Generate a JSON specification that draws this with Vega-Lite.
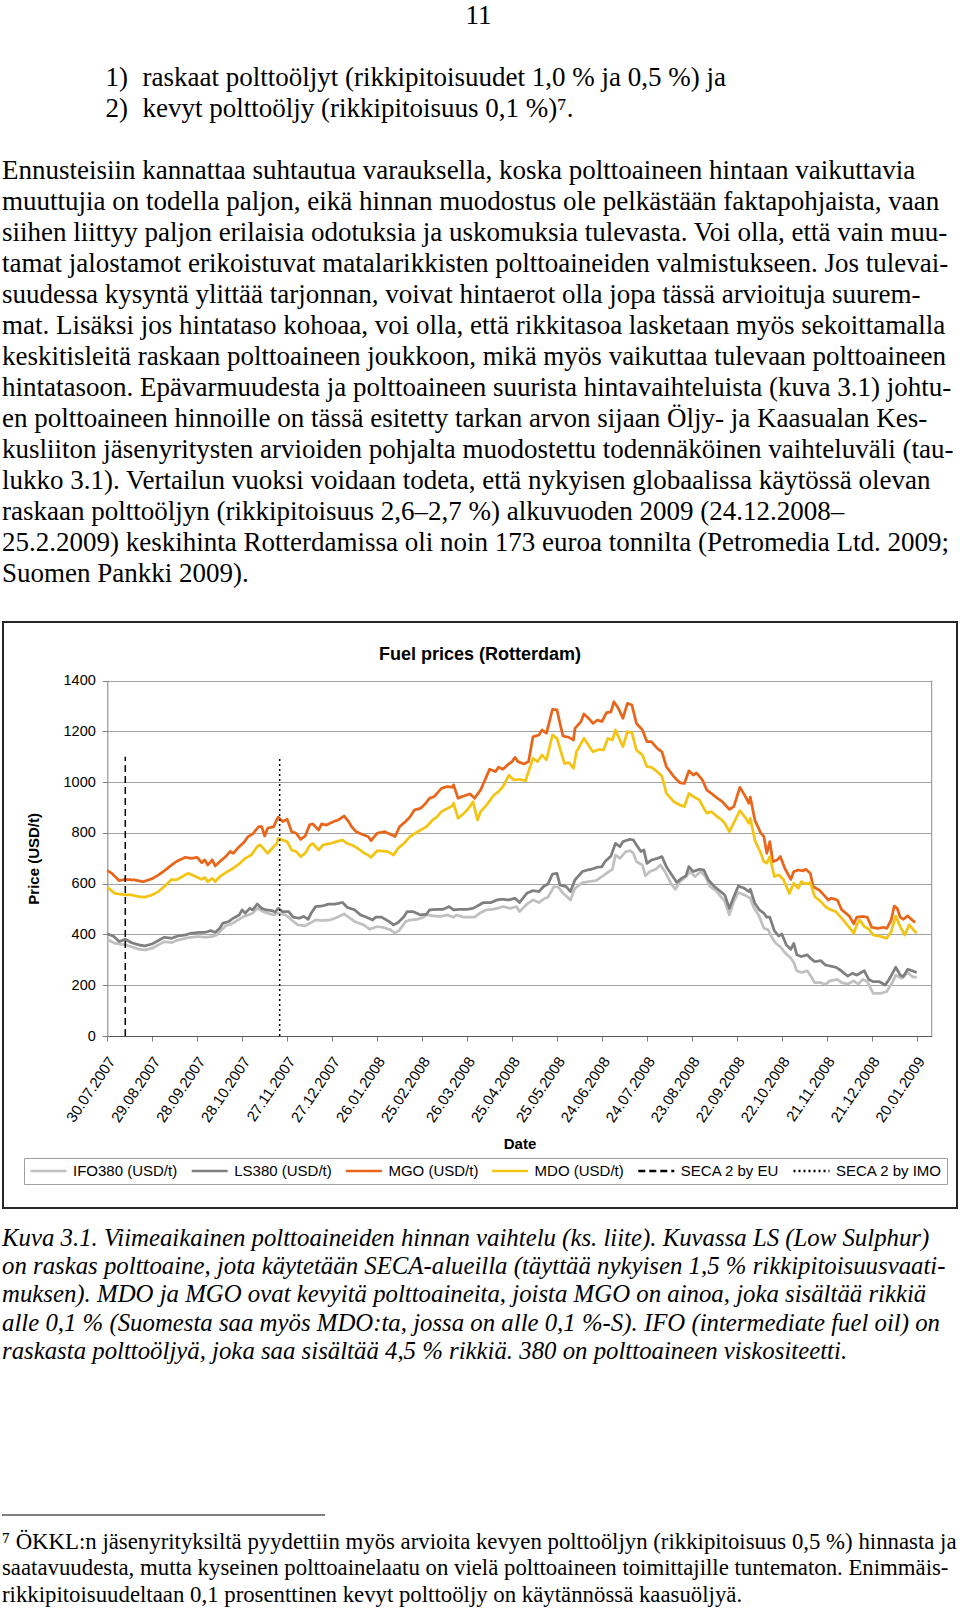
{
  "$schema": "https://vega.github.io/schema/vega-lite/v6.json",
  "background": "#ffffff",
  "padding": 0,
  "spacing": 0,
  "bounds": "flush",
  "center": true,
  "resolve": {"scale": {"x": "independent", "y": "independent"}},
  "config": {
    "view": {"stroke": null},
    "legend": {
      "orient": "none", "legendX": 24, "legendY": 1158, "direction": "horizontal", "columns": 6,
      "symbolType": "stroke", "symbolSize": 1296, "symbolStrokeWidth": 2.5, "clipHeight": 16,
      "labelFont": "Liberation Sans", "labelFontSize": 15, "labelColor": "#000000", "labelOffset": 5, "labelLimit": 0,
      "columnPadding": 12.2, "padding": 5, "strokeColor": "#a0a0a0"
    }
  },
  "vconcat": [
    {
      "width": 960,
      "height": 622,
      "data": {"values": [
        {"line": 0, "indent": 3, "text": "11"},
        {"line": 2, "indent": 1, "text": "1)"},
        {"line": 2, "indent": 2, "text": "raskaat polttoöljyt (rikkipitoisuudet 1,0 % ja 0,5 %) ja"},
        {"line": 3, "indent": 1, "text": "2)"},
        {"line": 3, "indent": 2, "text": "kevyt polttoöljy (rikkipitoisuus 0,1 %)⁷."},
        {"line": 5, "indent": 0, "text": "Ennusteisiin kannattaa suhtautua varauksella, koska polttoaineen hintaan vaikuttavia"},
        {"line": 6, "indent": 0, "text": "muuttujia on todella paljon, eikä hinnan muodostus ole pelkästään faktapohjaista, vaan"},
        {"line": 7, "indent": 0, "text": "siihen liittyy paljon erilaisia odotuksia ja uskomuksia tulevasta. Voi olla, että vain muu-"},
        {"line": 8, "indent": 0, "text": "tamat jalostamot erikoistuvat matalarikkisten polttoaineiden valmistukseen. Jos tulevai-"},
        {"line": 9, "indent": 0, "text": "suudessa kysyntä ylittää tarjonnan, voivat hintaerot olla jopa tässä arvioituja suurem-"},
        {"line": 10, "indent": 0, "text": "mat. Lisäksi jos hintataso kohoaa, voi olla, että rikkitasoa lasketaan myös sekoittamalla"},
        {"line": 11, "indent": 0, "text": "keskitisleitä raskaan polttoaineen joukkoon, mikä myös vaikuttaa tulevaan polttoaineen"},
        {"line": 12, "indent": 0, "text": "hintatasoon. Epävarmuudesta ja polttoaineen suurista hintavaihteluista (kuva 3.1) johtu-"},
        {"line": 13, "indent": 0, "text": "en polttoaineen hinnoille on tässä esitetty tarkan arvon sijaan Öljy- ja Kaasualan Kes-"},
        {"line": 14, "indent": 0, "text": "kusliiton jäsenyritysten arvioiden pohjalta muodostettu todennäköinen vaihteluväli (tau-"},
        {"line": 15, "indent": 0, "text": "lukko 3.1). Vertailun vuoksi voidaan todeta, että nykyisen globaalissa käytössä olevan"},
        {"line": 16, "indent": 0, "text": "raskaan polttoöljyn (rikkipitoisuus 2,6–2,7 %) alkuvuoden 2009 (24.12.2008–"},
        {"line": 17, "indent": 0, "text": "25.2.2009) keskihinta Rotterdamissa oli noin 173 euroa tonnilta (Petromedia Ltd. 2009;"},
        {"line": 18, "indent": 0, "text": "Suomen Pankki 2009)."}
      ]},
      "mark": {"type": "text", "align": "left", "baseline": "middle", "font": "Liberation Serif", "fontSize": 27, "color": "#000000"},
      "encoding": {
        "x": {"field": "indent", "type": "quantitative", "scale": {"domain": [0, 1, 2, 3], "range": [2, 105.6, 142.6, 465.5], "nice": false, "zero": false}, "axis": null},
        "y": {"field": "line", "type": "quantitative", "scale": {"domain": [-0.516, 19.548], "range": [0, 622], "nice": false, "zero": false}, "axis": null},
        "text": {"field": "text", "type": "nominal"}
      }
    },
    {
      "width": 954,
      "height": 586,
      "view": {"stroke": "#262626", "strokeWidth": 2},
      "title": {"text": "Fuel prices (Rotterdam)", "frame": "group", "anchor": "middle", "offset": -42, "font": "Liberation Sans", "fontSize": 18, "fontWeight": "bold", "color": "#000000"},
      "layer": [
        {
          "data": {"values": [{"edge": "plot area right border"}]},
          "mark": {"type": "rule", "color": "#8c8c8c", "strokeWidth": 1},
          "encoding": {
            "x": {"datum": {"year": 2009, "month": 1, "date": 30, "utc": true}, "type": "temporal"},
            "y": {"datum": 0, "type": "quantitative"},
            "y2": {"datum": 1400}
          }
        },
        {
          "data": {"values": [
{"series":"IFO380 (USD/t)","date":"2007-07-30","price":381},
{"series":"IFO380 (USD/t)","date":"2007-08-04","price":365},
{"series":"IFO380 (USD/t)","date":"2007-08-11","price":359},
{"series":"IFO380 (USD/t)","date":"2007-08-15","price":352},
{"series":"IFO380 (USD/t)","date":"2007-08-20","price":342},
{"series":"IFO380 (USD/t)","date":"2007-08-24","price":339},
{"series":"IFO380 (USD/t)","date":"2007-08-29","price":346},
{"series":"IFO380 (USD/t)","date":"2007-09-02","price":359},
{"series":"IFO380 (USD/t)","date":"2007-09-06","price":372},
{"series":"IFO380 (USD/t)","date":"2007-09-11","price":368},
{"series":"IFO380 (USD/t)","date":"2007-09-15","price":378},
{"series":"IFO380 (USD/t)","date":"2007-09-20","price":385},
{"series":"IFO380 (USD/t)","date":"2007-09-24","price":389},
{"series":"IFO380 (USD/t)","date":"2007-09-29","price":392},
{"series":"IFO380 (USD/t)","date":"2007-10-03","price":389},
{"series":"IFO380 (USD/t)","date":"2007-10-08","price":392},
{"series":"IFO380 (USD/t)","date":"2007-10-11","price":398},
{"series":"IFO380 (USD/t)","date":"2007-10-13","price":411},
{"series":"IFO380 (USD/t)","date":"2007-10-17","price":434},
{"series":"IFO380 (USD/t)","date":"2007-10-21","price":442},
{"series":"IFO380 (USD/t)","date":"2007-10-26","price":460},
{"series":"IFO380 (USD/t)","date":"2007-10-29","price":471},
{"series":"IFO380 (USD/t)","date":"2007-11-01","price":477},
{"series":"IFO380 (USD/t)","date":"2007-11-04","price":484},
{"series":"IFO380 (USD/t)","date":"2007-11-07","price":503},
{"series":"IFO380 (USD/t)","date":"2007-11-11","price":490},
{"series":"IFO380 (USD/t)","date":"2007-11-14","price":484},
{"series":"IFO380 (USD/t)","date":"2007-11-18","price":477},
{"series":"IFO380 (USD/t)","date":"2007-11-21","price":484},
{"series":"IFO380 (USD/t)","date":"2007-11-26","price":477},
{"series":"IFO380 (USD/t)","date":"2007-11-30","price":457},
{"series":"IFO380 (USD/t)","date":"2007-12-04","price":438},
{"series":"IFO380 (USD/t)","date":"2007-12-09","price":434},
{"series":"IFO380 (USD/t)","date":"2007-12-12","price":444},
{"series":"IFO380 (USD/t)","date":"2007-12-16","price":457},
{"series":"IFO380 (USD/t)","date":"2007-12-20","price":455},
{"series":"IFO380 (USD/t)","date":"2007-12-25","price":457},
{"series":"IFO380 (USD/t)","date":"2007-12-29","price":464},
{"series":"IFO380 (USD/t)","date":"2008-01-04","price":481},
{"series":"IFO380 (USD/t)","date":"2008-01-08","price":464},
{"series":"IFO380 (USD/t)","date":"2008-01-11","price":451},
{"series":"IFO380 (USD/t)","date":"2008-01-17","price":438},
{"series":"IFO380 (USD/t)","date":"2008-01-21","price":421},
{"series":"IFO380 (USD/t)","date":"2008-01-26","price":431},
{"series":"IFO380 (USD/t)","date":"2008-01-30","price":428},
{"series":"IFO380 (USD/t)","date":"2008-02-04","price":418},
{"series":"IFO380 (USD/t)","date":"2008-02-07","price":405},
{"series":"IFO380 (USD/t)","date":"2008-02-10","price":418},
{"series":"IFO380 (USD/t)","date":"2008-02-14","price":451},
{"series":"IFO380 (USD/t)","date":"2008-02-17","price":457},
{"series":"IFO380 (USD/t)","date":"2008-02-22","price":460},
{"series":"IFO380 (USD/t)","date":"2008-02-26","price":468},
{"series":"IFO380 (USD/t)","date":"2008-02-28","price":477},
{"series":"IFO380 (USD/t)","date":"2008-03-04","price":473},
{"series":"IFO380 (USD/t)","date":"2008-03-08","price":471},
{"series":"IFO380 (USD/t)","date":"2008-03-13","price":477},
{"series":"IFO380 (USD/t)","date":"2008-03-17","price":468},
{"series":"IFO380 (USD/t)","date":"2008-03-19","price":477},
{"series":"IFO380 (USD/t)","date":"2008-03-24","price":468},
{"series":"IFO380 (USD/t)","date":"2008-03-28","price":468},
{"series":"IFO380 (USD/t)","date":"2008-03-31","price":468},
{"series":"IFO380 (USD/t)","date":"2008-04-04","price":486},
{"series":"IFO380 (USD/t)","date":"2008-04-08","price":497},
{"series":"IFO380 (USD/t)","date":"2008-04-12","price":499},
{"series":"IFO380 (USD/t)","date":"2008-04-15","price":503},
{"series":"IFO380 (USD/t)","date":"2008-04-19","price":510},
{"series":"IFO380 (USD/t)","date":"2008-04-24","price":503},
{"series":"IFO380 (USD/t)","date":"2008-04-28","price":510},
{"series":"IFO380 (USD/t)","date":"2008-04-30","price":490},
{"series":"IFO380 (USD/t)","date":"2008-05-05","price":520},
{"series":"IFO380 (USD/t)","date":"2008-05-09","price":536},
{"series":"IFO380 (USD/t)","date":"2008-05-13","price":526},
{"series":"IFO380 (USD/t)","date":"2008-05-17","price":543},
{"series":"IFO380 (USD/t)","date":"2008-05-19","price":547},
{"series":"IFO380 (USD/t)","date":"2008-05-23","price":589},
{"series":"IFO380 (USD/t)","date":"2008-05-26","price":586},
{"series":"IFO380 (USD/t)","date":"2008-05-29","price":563},
{"series":"IFO380 (USD/t)","date":"2008-06-03","price":536},
{"series":"IFO380 (USD/t)","date":"2008-06-06","price":582},
{"series":"IFO380 (USD/t)","date":"2008-06-11","price":604},
{"series":"IFO380 (USD/t)","date":"2008-06-15","price":608},
{"series":"IFO380 (USD/t)","date":"2008-06-20","price":612},
{"series":"IFO380 (USD/t)","date":"2008-06-24","price":628},
{"series":"IFO380 (USD/t)","date":"2008-06-27","price":641},
{"series":"IFO380 (USD/t)","date":"2008-07-01","price":657},
{"series":"IFO380 (USD/t)","date":"2008-07-03","price":713},
{"series":"IFO380 (USD/t)","date":"2008-07-06","price":700},
{"series":"IFO380 (USD/t)","date":"2008-07-10","price":727},
{"series":"IFO380 (USD/t)","date":"2008-07-13","price":730},
{"series":"IFO380 (USD/t)","date":"2008-07-15","price":720},
{"series":"IFO380 (USD/t)","date":"2008-07-17","price":687},
{"series":"IFO380 (USD/t)","date":"2008-07-21","price":674},
{"series":"IFO380 (USD/t)","date":"2008-07-23","price":631},
{"series":"IFO380 (USD/t)","date":"2008-07-26","price":648},
{"series":"IFO380 (USD/t)","date":"2008-07-30","price":657},
{"series":"IFO380 (USD/t)","date":"2008-08-02","price":674},
{"series":"IFO380 (USD/t)","date":"2008-08-05","price":648},
{"series":"IFO380 (USD/t)","date":"2008-08-09","price":602},
{"series":"IFO380 (USD/t)","date":"2008-08-12","price":578},
{"series":"IFO380 (USD/t)","date":"2008-08-15","price":608},
{"series":"IFO380 (USD/t)","date":"2008-08-19","price":628},
{"series":"IFO380 (USD/t)","date":"2008-08-22","price":648},
{"series":"IFO380 (USD/t)","date":"2008-08-25","price":628},
{"series":"IFO380 (USD/t)","date":"2008-08-29","price":648},
{"series":"IFO380 (USD/t)","date":"2008-09-01","price":628},
{"series":"IFO380 (USD/t)","date":"2008-09-04","price":589},
{"series":"IFO380 (USD/t)","date":"2008-09-08","price":573},
{"series":"IFO380 (USD/t)","date":"2008-09-11","price":552},
{"series":"IFO380 (USD/t)","date":"2008-09-14","price":530},
{"series":"IFO380 (USD/t)","date":"2008-09-17","price":477},
{"series":"IFO380 (USD/t)","date":"2008-09-20","price":530},
{"series":"IFO380 (USD/t)","date":"2008-09-23","price":565},
{"series":"IFO380 (USD/t)","date":"2008-09-27","price":556},
{"series":"IFO380 (USD/t)","date":"2008-10-01","price":543},
{"series":"IFO380 (USD/t)","date":"2008-10-03","price":510},
{"series":"IFO380 (USD/t)","date":"2008-10-07","price":471},
{"series":"IFO380 (USD/t)","date":"2008-10-10","price":425},
{"series":"IFO380 (USD/t)","date":"2008-10-13","price":418},
{"series":"IFO380 (USD/t)","date":"2008-10-15","price":392},
{"series":"IFO380 (USD/t)","date":"2008-10-18","price":365},
{"series":"IFO380 (USD/t)","date":"2008-10-21","price":352},
{"series":"IFO380 (USD/t)","date":"2008-10-24","price":329},
{"series":"IFO380 (USD/t)","date":"2008-10-28","price":307},
{"series":"IFO380 (USD/t)","date":"2008-10-30","price":289},
{"series":"IFO380 (USD/t)","date":"2008-11-01","price":257},
{"series":"IFO380 (USD/t)","date":"2008-11-04","price":250},
{"series":"IFO380 (USD/t)","date":"2008-11-08","price":257},
{"series":"IFO380 (USD/t)","date":"2008-11-11","price":230},
{"series":"IFO380 (USD/t)","date":"2008-11-13","price":210},
{"series":"IFO380 (USD/t)","date":"2008-11-17","price":210},
{"series":"IFO380 (USD/t)","date":"2008-11-20","price":203},
{"series":"IFO380 (USD/t)","date":"2008-11-23","price":217},
{"series":"IFO380 (USD/t)","date":"2008-11-28","price":223},
{"series":"IFO380 (USD/t)","date":"2008-12-01","price":210},
{"series":"IFO380 (USD/t)","date":"2008-12-05","price":205},
{"series":"IFO380 (USD/t)","date":"2008-12-09","price":217},
{"series":"IFO380 (USD/t)","date":"2008-12-12","price":205},
{"series":"IFO380 (USD/t)","date":"2008-12-15","price":223},
{"series":"IFO380 (USD/t)","date":"2008-12-18","price":214},
{"series":"IFO380 (USD/t)","date":"2008-12-22","price":168},
{"series":"IFO380 (USD/t)","date":"2008-12-27","price":168},
{"series":"IFO380 (USD/t)","date":"2008-12-31","price":175},
{"series":"IFO380 (USD/t)","date":"2009-01-04","price":214},
{"series":"IFO380 (USD/t)","date":"2009-01-06","price":240},
{"series":"IFO380 (USD/t)","date":"2009-01-10","price":227},
{"series":"IFO380 (USD/t)","date":"2009-01-14","price":250},
{"series":"IFO380 (USD/t)","date":"2009-01-17","price":234},
{"series":"IFO380 (USD/t)","date":"2009-01-20","price":231},
{"series":"LS380 (USD/t)","date":"2007-07-30","price":402},
{"series":"LS380 (USD/t)","date":"2007-08-03","price":394},
{"series":"LS380 (USD/t)","date":"2007-08-07","price":372},
{"series":"LS380 (USD/t)","date":"2007-08-11","price":381},
{"series":"LS380 (USD/t)","date":"2007-08-15","price":368},
{"series":"LS380 (USD/t)","date":"2007-08-20","price":359},
{"series":"LS380 (USD/t)","date":"2007-08-24","price":355},
{"series":"LS380 (USD/t)","date":"2007-08-29","price":363},
{"series":"LS380 (USD/t)","date":"2007-09-02","price":376},
{"series":"LS380 (USD/t)","date":"2007-09-06","price":389},
{"series":"LS380 (USD/t)","date":"2007-09-11","price":385},
{"series":"LS380 (USD/t)","date":"2007-09-15","price":394},
{"series":"LS380 (USD/t)","date":"2007-09-20","price":398},
{"series":"LS380 (USD/t)","date":"2007-09-24","price":405},
{"series":"LS380 (USD/t)","date":"2007-09-29","price":408},
{"series":"LS380 (USD/t)","date":"2007-10-03","price":408},
{"series":"LS380 (USD/t)","date":"2007-10-07","price":415},
{"series":"LS380 (USD/t)","date":"2007-10-10","price":408},
{"series":"LS380 (USD/t)","date":"2007-10-13","price":425},
{"series":"LS380 (USD/t)","date":"2007-10-15","price":444},
{"series":"LS380 (USD/t)","date":"2007-10-19","price":451},
{"series":"LS380 (USD/t)","date":"2007-10-22","price":464},
{"series":"LS380 (USD/t)","date":"2007-10-26","price":477},
{"series":"LS380 (USD/t)","date":"2007-10-28","price":497},
{"series":"LS380 (USD/t)","date":"2007-10-30","price":484},
{"series":"LS380 (USD/t)","date":"2007-11-02","price":503},
{"series":"LS380 (USD/t)","date":"2007-11-04","price":497},
{"series":"LS380 (USD/t)","date":"2007-11-07","price":520},
{"series":"LS380 (USD/t)","date":"2007-11-10","price":503},
{"series":"LS380 (USD/t)","date":"2007-11-13","price":497},
{"series":"LS380 (USD/t)","date":"2007-11-17","price":494},
{"series":"LS380 (USD/t)","date":"2007-11-19","price":488},
{"series":"LS380 (USD/t)","date":"2007-11-21","price":503},
{"series":"LS380 (USD/t)","date":"2007-11-24","price":490},
{"series":"LS380 (USD/t)","date":"2007-11-28","price":490},
{"series":"LS380 (USD/t)","date":"2007-12-01","price":468},
{"series":"LS380 (USD/t)","date":"2007-12-05","price":464},
{"series":"LS380 (USD/t)","date":"2007-12-08","price":471},
{"series":"LS380 (USD/t)","date":"2007-12-11","price":460},
{"series":"LS380 (USD/t)","date":"2007-12-13","price":484},
{"series":"LS380 (USD/t)","date":"2007-12-16","price":510},
{"series":"LS380 (USD/t)","date":"2007-12-20","price":512},
{"series":"LS380 (USD/t)","date":"2007-12-25","price":520},
{"series":"LS380 (USD/t)","date":"2007-12-29","price":520},
{"series":"LS380 (USD/t)","date":"2008-01-03","price":526},
{"series":"LS380 (USD/t)","date":"2008-01-06","price":507},
{"series":"LS380 (USD/t)","date":"2008-01-11","price":497},
{"series":"LS380 (USD/t)","date":"2008-01-15","price":477},
{"series":"LS380 (USD/t)","date":"2008-01-19","price":468},
{"series":"LS380 (USD/t)","date":"2008-01-23","price":457},
{"series":"LS380 (USD/t)","date":"2008-01-25","price":468},
{"series":"LS380 (USD/t)","date":"2008-01-29","price":468},
{"series":"LS380 (USD/t)","date":"2008-02-03","price":451},
{"series":"LS380 (USD/t)","date":"2008-02-06","price":438},
{"series":"LS380 (USD/t)","date":"2008-02-09","price":447},
{"series":"LS380 (USD/t)","date":"2008-02-13","price":471},
{"series":"LS380 (USD/t)","date":"2008-02-15","price":490},
{"series":"LS380 (USD/t)","date":"2008-02-19","price":490},
{"series":"LS380 (USD/t)","date":"2008-02-24","price":477},
{"series":"LS380 (USD/t)","date":"2008-02-28","price":480},
{"series":"LS380 (USD/t)","date":"2008-03-01","price":497},
{"series":"LS380 (USD/t)","date":"2008-03-06","price":499},
{"series":"LS380 (USD/t)","date":"2008-03-10","price":499},
{"series":"LS380 (USD/t)","date":"2008-03-14","price":510},
{"series":"LS380 (USD/t)","date":"2008-03-17","price":497},
{"series":"LS380 (USD/t)","date":"2008-03-21","price":499},
{"series":"LS380 (USD/t)","date":"2008-03-26","price":499},
{"series":"LS380 (USD/t)","date":"2008-03-30","price":503},
{"series":"LS380 (USD/t)","date":"2008-04-03","price":516},
{"series":"LS380 (USD/t)","date":"2008-04-06","price":526},
{"series":"LS380 (USD/t)","date":"2008-04-11","price":526},
{"series":"LS380 (USD/t)","date":"2008-04-15","price":536},
{"series":"LS380 (USD/t)","date":"2008-04-18","price":539},
{"series":"LS380 (USD/t)","date":"2008-04-23","price":536},
{"series":"LS380 (USD/t)","date":"2008-04-27","price":543},
{"series":"LS380 (USD/t)","date":"2008-04-30","price":526},
{"series":"LS380 (USD/t)","date":"2008-05-05","price":563},
{"series":"LS380 (USD/t)","date":"2008-05-09","price":573},
{"series":"LS380 (USD/t)","date":"2008-05-13","price":569},
{"series":"LS380 (USD/t)","date":"2008-05-16","price":589},
{"series":"LS380 (USD/t)","date":"2008-05-19","price":599},
{"series":"LS380 (USD/t)","date":"2008-05-22","price":638},
{"series":"LS380 (USD/t)","date":"2008-05-25","price":641},
{"series":"LS380 (USD/t)","date":"2008-05-27","price":595},
{"series":"LS380 (USD/t)","date":"2008-05-31","price":589},
{"series":"LS380 (USD/t)","date":"2008-06-03","price":569},
{"series":"LS380 (USD/t)","date":"2008-06-06","price":615},
{"series":"LS380 (USD/t)","date":"2008-06-11","price":648},
{"series":"LS380 (USD/t)","date":"2008-06-14","price":654},
{"series":"LS380 (USD/t)","date":"2008-06-17","price":657},
{"series":"LS380 (USD/t)","date":"2008-06-21","price":665},
{"series":"LS380 (USD/t)","date":"2008-06-24","price":667},
{"series":"LS380 (USD/t)","date":"2008-06-26","price":687},
{"series":"LS380 (USD/t)","date":"2008-06-30","price":709},
{"series":"LS380 (USD/t)","date":"2008-07-03","price":759},
{"series":"LS380 (USD/t)","date":"2008-07-06","price":746},
{"series":"LS380 (USD/t)","date":"2008-07-08","price":766},
{"series":"LS380 (USD/t)","date":"2008-07-11","price":772},
{"series":"LS380 (USD/t)","date":"2008-07-13","price":775},
{"series":"LS380 (USD/t)","date":"2008-07-15","price":772},
{"series":"LS380 (USD/t)","date":"2008-07-17","price":753},
{"series":"LS380 (USD/t)","date":"2008-07-20","price":727},
{"series":"LS380 (USD/t)","date":"2008-07-22","price":733},
{"series":"LS380 (USD/t)","date":"2008-07-24","price":680},
{"series":"LS380 (USD/t)","date":"2008-07-27","price":693},
{"series":"LS380 (USD/t)","date":"2008-07-31","price":700},
{"series":"LS380 (USD/t)","date":"2008-08-03","price":707},
{"series":"LS380 (USD/t)","date":"2008-08-06","price":667},
{"series":"LS380 (USD/t)","date":"2008-08-10","price":631},
{"series":"LS380 (USD/t)","date":"2008-08-13","price":605},
{"series":"LS380 (USD/t)","date":"2008-08-16","price":621},
{"series":"LS380 (USD/t)","date":"2008-08-19","price":631},
{"series":"LS380 (USD/t)","date":"2008-08-21","price":667},
{"series":"LS380 (USD/t)","date":"2008-08-24","price":648},
{"series":"LS380 (USD/t)","date":"2008-08-28","price":657},
{"series":"LS380 (USD/t)","date":"2008-08-31","price":654},
{"series":"LS380 (USD/t)","date":"2008-09-03","price":615},
{"series":"LS380 (USD/t)","date":"2008-09-07","price":589},
{"series":"LS380 (USD/t)","date":"2008-09-11","price":570},
{"series":"LS380 (USD/t)","date":"2008-09-14","price":555},
{"series":"LS380 (USD/t)","date":"2008-09-17","price":503},
{"series":"LS380 (USD/t)","date":"2008-09-20","price":549},
{"series":"LS380 (USD/t)","date":"2008-09-23","price":591},
{"series":"LS380 (USD/t)","date":"2008-09-27","price":582},
{"series":"LS380 (USD/t)","date":"2008-09-30","price":569},
{"series":"LS380 (USD/t)","date":"2008-10-01","price":578},
{"series":"LS380 (USD/t)","date":"2008-10-04","price":523},
{"series":"LS380 (USD/t)","date":"2008-10-07","price":497},
{"series":"LS380 (USD/t)","date":"2008-10-10","price":484},
{"series":"LS380 (USD/t)","date":"2008-10-12","price":468},
{"series":"LS380 (USD/t)","date":"2008-10-14","price":468},
{"series":"LS380 (USD/t)","date":"2008-10-17","price":415},
{"series":"LS380 (USD/t)","date":"2008-10-20","price":394},
{"series":"LS380 (USD/t)","date":"2008-10-22","price":402},
{"series":"LS380 (USD/t)","date":"2008-10-25","price":359},
{"series":"LS380 (USD/t)","date":"2008-10-28","price":342},
{"series":"LS380 (USD/t)","date":"2008-10-30","price":365},
{"series":"LS380 (USD/t)","date":"2008-11-01","price":320},
{"series":"LS380 (USD/t)","date":"2008-11-04","price":313},
{"series":"LS380 (USD/t)","date":"2008-11-08","price":320},
{"series":"LS380 (USD/t)","date":"2008-11-10","price":307},
{"series":"LS380 (USD/t)","date":"2008-11-13","price":293},
{"series":"LS380 (USD/t)","date":"2008-11-17","price":297},
{"series":"LS380 (USD/t)","date":"2008-11-20","price":280},
{"series":"LS380 (USD/t)","date":"2008-11-23","price":276},
{"series":"LS380 (USD/t)","date":"2008-11-27","price":271},
{"series":"LS380 (USD/t)","date":"2008-11-30","price":260},
{"series":"LS380 (USD/t)","date":"2008-12-05","price":236},
{"series":"LS380 (USD/t)","date":"2008-12-08","price":247},
{"series":"LS380 (USD/t)","date":"2008-12-11","price":240},
{"series":"LS380 (USD/t)","date":"2008-12-16","price":257},
{"series":"LS380 (USD/t)","date":"2008-12-19","price":223},
{"series":"LS380 (USD/t)","date":"2008-12-22","price":214},
{"series":"LS380 (USD/t)","date":"2008-12-26","price":214},
{"series":"LS380 (USD/t)","date":"2008-12-30","price":201},
{"series":"LS380 (USD/t)","date":"2009-01-02","price":227},
{"series":"LS380 (USD/t)","date":"2009-01-06","price":271},
{"series":"LS380 (USD/t)","date":"2009-01-09","price":240},
{"series":"LS380 (USD/t)","date":"2009-01-11","price":234},
{"series":"LS380 (USD/t)","date":"2009-01-14","price":263},
{"series":"LS380 (USD/t)","date":"2009-01-17","price":257},
{"series":"LS380 (USD/t)","date":"2009-01-20","price":250},
{"series":"MGO (USD/t)","date":"2007-07-30","price":652},
{"series":"MGO (USD/t)","date":"2007-08-02","price":641},
{"series":"MGO (USD/t)","date":"2007-08-07","price":612},
{"series":"MGO (USD/t)","date":"2007-08-11","price":617},
{"series":"MGO (USD/t)","date":"2007-08-17","price":615},
{"series":"MGO (USD/t)","date":"2007-08-23","price":608},
{"series":"MGO (USD/t)","date":"2007-08-29","price":620},
{"series":"MGO (USD/t)","date":"2007-09-02","price":634},
{"series":"MGO (USD/t)","date":"2007-09-06","price":651},
{"series":"MGO (USD/t)","date":"2007-09-11","price":674},
{"series":"MGO (USD/t)","date":"2007-09-14","price":687},
{"series":"MGO (USD/t)","date":"2007-09-20","price":704},
{"series":"MGO (USD/t)","date":"2007-09-24","price":700},
{"series":"MGO (USD/t)","date":"2007-09-28","price":704},
{"series":"MGO (USD/t)","date":"2007-10-01","price":683},
{"series":"MGO (USD/t)","date":"2007-10-03","price":694},
{"series":"MGO (USD/t)","date":"2007-10-05","price":674},
{"series":"MGO (USD/t)","date":"2007-10-08","price":694},
{"series":"MGO (USD/t)","date":"2007-10-10","price":670},
{"series":"MGO (USD/t)","date":"2007-10-13","price":687},
{"series":"MGO (USD/t)","date":"2007-10-17","price":707},
{"series":"MGO (USD/t)","date":"2007-10-20","price":727},
{"series":"MGO (USD/t)","date":"2007-10-22","price":720},
{"series":"MGO (USD/t)","date":"2007-10-26","price":746},
{"series":"MGO (USD/t)","date":"2007-10-29","price":762},
{"series":"MGO (USD/t)","date":"2007-11-01","price":786},
{"series":"MGO (USD/t)","date":"2007-11-04","price":796},
{"series":"MGO (USD/t)","date":"2007-11-08","price":825},
{"series":"MGO (USD/t)","date":"2007-11-10","price":825},
{"series":"MGO (USD/t)","date":"2007-11-12","price":788},
{"series":"MGO (USD/t)","date":"2007-11-14","price":819},
{"series":"MGO (USD/t)","date":"2007-11-18","price":825},
{"series":"MGO (USD/t)","date":"2007-11-20","price":851},
{"series":"MGO (USD/t)","date":"2007-11-21","price":862},
{"series":"MGO (USD/t)","date":"2007-11-24","price":845},
{"series":"MGO (USD/t)","date":"2007-11-27","price":854},
{"series":"MGO (USD/t)","date":"2007-11-30","price":805},
{"series":"MGO (USD/t)","date":"2007-12-03","price":799},
{"series":"MGO (USD/t)","date":"2007-12-06","price":775},
{"series":"MGO (USD/t)","date":"2007-12-09","price":788},
{"series":"MGO (USD/t)","date":"2007-12-12","price":832},
{"series":"MGO (USD/t)","date":"2007-12-14","price":836},
{"series":"MGO (USD/t)","date":"2007-12-18","price":812},
{"series":"MGO (USD/t)","date":"2007-12-20","price":836},
{"series":"MGO (USD/t)","date":"2007-12-23","price":831},
{"series":"MGO (USD/t)","date":"2007-12-28","price":845},
{"series":"MGO (USD/t)","date":"2007-12-31","price":851},
{"series":"MGO (USD/t)","date":"2008-01-04","price":867},
{"series":"MGO (USD/t)","date":"2008-01-07","price":845},
{"series":"MGO (USD/t)","date":"2008-01-09","price":825},
{"series":"MGO (USD/t)","date":"2008-01-12","price":805},
{"series":"MGO (USD/t)","date":"2008-01-17","price":792},
{"series":"MGO (USD/t)","date":"2008-01-20","price":786},
{"series":"MGO (USD/t)","date":"2008-01-22","price":770},
{"series":"MGO (USD/t)","date":"2008-01-26","price":799},
{"series":"MGO (USD/t)","date":"2008-01-31","price":805},
{"series":"MGO (USD/t)","date":"2008-02-05","price":792},
{"series":"MGO (USD/t)","date":"2008-02-07","price":786},
{"series":"MGO (USD/t)","date":"2008-02-10","price":825},
{"series":"MGO (USD/t)","date":"2008-02-14","price":845},
{"series":"MGO (USD/t)","date":"2008-02-17","price":864},
{"series":"MGO (USD/t)","date":"2008-02-20","price":891},
{"series":"MGO (USD/t)","date":"2008-02-24","price":897},
{"series":"MGO (USD/t)","date":"2008-02-27","price":914},
{"series":"MGO (USD/t)","date":"2008-03-01","price":937},
{"series":"MGO (USD/t)","date":"2008-03-04","price":943},
{"series":"MGO (USD/t)","date":"2008-03-06","price":956},
{"series":"MGO (USD/t)","date":"2008-03-09","price":976},
{"series":"MGO (USD/t)","date":"2008-03-13","price":983},
{"series":"MGO (USD/t)","date":"2008-03-16","price":980},
{"series":"MGO (USD/t)","date":"2008-03-17","price":989},
{"series":"MGO (USD/t)","date":"2008-03-20","price":937},
{"series":"MGO (USD/t)","date":"2008-03-24","price":946},
{"series":"MGO (USD/t)","date":"2008-03-28","price":954},
{"series":"MGO (USD/t)","date":"2008-03-31","price":937},
{"series":"MGO (USD/t)","date":"2008-04-04","price":969},
{"series":"MGO (USD/t)","date":"2008-04-07","price":1009},
{"series":"MGO (USD/t)","date":"2008-04-10","price":1051},
{"series":"MGO (USD/t)","date":"2008-04-14","price":1042},
{"series":"MGO (USD/t)","date":"2008-04-16","price":1059},
{"series":"MGO (USD/t)","date":"2008-04-19","price":1051},
{"series":"MGO (USD/t)","date":"2008-04-22","price":1068},
{"series":"MGO (USD/t)","date":"2008-04-25","price":1081},
{"series":"MGO (USD/t)","date":"2008-04-27","price":1098},
{"series":"MGO (USD/t)","date":"2008-04-29","price":1081},
{"series":"MGO (USD/t)","date":"2008-05-03","price":1072},
{"series":"MGO (USD/t)","date":"2008-05-06","price":1081},
{"series":"MGO (USD/t)","date":"2008-05-09","price":1179},
{"series":"MGO (USD/t)","date":"2008-05-13","price":1186},
{"series":"MGO (USD/t)","date":"2008-05-15","price":1206},
{"series":"MGO (USD/t)","date":"2008-05-18","price":1193},
{"series":"MGO (USD/t)","date":"2008-05-22","price":1287},
{"series":"MGO (USD/t)","date":"2008-05-25","price":1285},
{"series":"MGO (USD/t)","date":"2008-05-27","price":1232},
{"series":"MGO (USD/t)","date":"2008-05-29","price":1182},
{"series":"MGO (USD/t)","date":"2008-06-02","price":1177},
{"series":"MGO (USD/t)","date":"2008-06-05","price":1166},
{"series":"MGO (USD/t)","date":"2008-06-06","price":1212},
{"series":"MGO (USD/t)","date":"2008-06-10","price":1239},
{"series":"MGO (USD/t)","date":"2008-06-12","price":1269},
{"series":"MGO (USD/t)","date":"2008-06-15","price":1252},
{"series":"MGO (USD/t)","date":"2008-06-18","price":1232},
{"series":"MGO (USD/t)","date":"2008-06-21","price":1245},
{"series":"MGO (USD/t)","date":"2008-06-24","price":1239},
{"series":"MGO (USD/t)","date":"2008-06-27","price":1274},
{"series":"MGO (USD/t)","date":"2008-06-30","price":1277},
{"series":"MGO (USD/t)","date":"2008-07-02","price":1317},
{"series":"MGO (USD/t)","date":"2008-07-05","price":1291},
{"series":"MGO (USD/t)","date":"2008-07-08","price":1252},
{"series":"MGO (USD/t)","date":"2008-07-11","price":1311},
{"series":"MGO (USD/t)","date":"2008-07-14","price":1304},
{"series":"MGO (USD/t)","date":"2008-07-17","price":1232},
{"series":"MGO (USD/t)","date":"2008-07-21","price":1206},
{"series":"MGO (USD/t)","date":"2008-07-24","price":1160},
{"series":"MGO (USD/t)","date":"2008-07-27","price":1160},
{"series":"MGO (USD/t)","date":"2008-07-31","price":1133},
{"series":"MGO (USD/t)","date":"2008-08-03","price":1120},
{"series":"MGO (USD/t)","date":"2008-08-06","price":1061},
{"series":"MGO (USD/t)","date":"2008-08-11","price":1022},
{"series":"MGO (USD/t)","date":"2008-08-15","price":998},
{"series":"MGO (USD/t)","date":"2008-08-18","price":995},
{"series":"MGO (USD/t)","date":"2008-08-21","price":1045},
{"series":"MGO (USD/t)","date":"2008-08-24","price":1028},
{"series":"MGO (USD/t)","date":"2008-08-26","price":1037},
{"series":"MGO (USD/t)","date":"2008-08-30","price":1009},
{"series":"MGO (USD/t)","date":"2008-09-02","price":969},
{"series":"MGO (USD/t)","date":"2008-09-05","price":956},
{"series":"MGO (USD/t)","date":"2008-09-09","price":937},
{"series":"MGO (USD/t)","date":"2008-09-12","price":925},
{"series":"MGO (USD/t)","date":"2008-09-14","price":912},
{"series":"MGO (USD/t)","date":"2008-09-17","price":893},
{"series":"MGO (USD/t)","date":"2008-09-20","price":904},
{"series":"MGO (USD/t)","date":"2008-09-24","price":980},
{"series":"MGO (USD/t)","date":"2008-09-28","price":941},
{"series":"MGO (USD/t)","date":"2008-09-30","price":917},
{"series":"MGO (USD/t)","date":"2008-10-01","price":941},
{"series":"MGO (USD/t)","date":"2008-10-04","price":851},
{"series":"MGO (USD/t)","date":"2008-10-08","price":799},
{"series":"MGO (USD/t)","date":"2008-10-10","price":786},
{"series":"MGO (USD/t)","date":"2008-10-12","price":720},
{"series":"MGO (USD/t)","date":"2008-10-14","price":766},
{"series":"MGO (USD/t)","date":"2008-10-16","price":687},
{"series":"MGO (USD/t)","date":"2008-10-19","price":694},
{"series":"MGO (USD/t)","date":"2008-10-21","price":707},
{"series":"MGO (USD/t)","date":"2008-10-24","price":661},
{"series":"MGO (USD/t)","date":"2008-10-28","price":617},
{"series":"MGO (USD/t)","date":"2008-10-30","price":648},
{"series":"MGO (USD/t)","date":"2008-11-02","price":654},
{"series":"MGO (USD/t)","date":"2008-11-05","price":651},
{"series":"MGO (USD/t)","date":"2008-11-07","price":657},
{"series":"MGO (USD/t)","date":"2008-11-10","price":641},
{"series":"MGO (USD/t)","date":"2008-11-12","price":588},
{"series":"MGO (USD/t)","date":"2008-11-16","price":575},
{"series":"MGO (USD/t)","date":"2008-11-19","price":556},
{"series":"MGO (USD/t)","date":"2008-11-22","price":536},
{"series":"MGO (USD/t)","date":"2008-11-24","price":543},
{"series":"MGO (USD/t)","date":"2008-11-28","price":536},
{"series":"MGO (USD/t)","date":"2008-12-01","price":497},
{"series":"MGO (USD/t)","date":"2008-12-06","price":473},
{"series":"MGO (USD/t)","date":"2008-12-09","price":442},
{"series":"MGO (USD/t)","date":"2008-12-11","price":468},
{"series":"MGO (USD/t)","date":"2008-12-15","price":471},
{"series":"MGO (USD/t)","date":"2008-12-18","price":468},
{"series":"MGO (USD/t)","date":"2008-12-21","price":428},
{"series":"MGO (USD/t)","date":"2008-12-25","price":424},
{"series":"MGO (USD/t)","date":"2008-12-29","price":428},
{"series":"MGO (USD/t)","date":"2008-12-31","price":424},
{"series":"MGO (USD/t)","date":"2009-01-03","price":457},
{"series":"MGO (USD/t)","date":"2009-01-05","price":512},
{"series":"MGO (USD/t)","date":"2009-01-07","price":503},
{"series":"MGO (USD/t)","date":"2009-01-09","price":468},
{"series":"MGO (USD/t)","date":"2009-01-11","price":460},
{"series":"MGO (USD/t)","date":"2009-01-14","price":473},
{"series":"MGO (USD/t)","date":"2009-01-17","price":457},
{"series":"MGO (USD/t)","date":"2009-01-19","price":447},
{"series":"MDO (USD/t)","date":"2007-07-30","price":586},
{"series":"MDO (USD/t)","date":"2007-08-04","price":562},
{"series":"MDO (USD/t)","date":"2007-08-11","price":556},
{"series":"MDO (USD/t)","date":"2007-08-15","price":556},
{"series":"MDO (USD/t)","date":"2007-08-20","price":549},
{"series":"MDO (USD/t)","date":"2007-08-24","price":547},
{"series":"MDO (USD/t)","date":"2007-08-29","price":556},
{"series":"MDO (USD/t)","date":"2007-09-02","price":569},
{"series":"MDO (USD/t)","date":"2007-09-06","price":589},
{"series":"MDO (USD/t)","date":"2007-09-11","price":617},
{"series":"MDO (USD/t)","date":"2007-09-14","price":615},
{"series":"MDO (USD/t)","date":"2007-09-18","price":628},
{"series":"MDO (USD/t)","date":"2007-09-22","price":641},
{"series":"MDO (USD/t)","date":"2007-09-26","price":631},
{"series":"MDO (USD/t)","date":"2007-10-01","price":617},
{"series":"MDO (USD/t)","date":"2007-10-03","price":625},
{"series":"MDO (USD/t)","date":"2007-10-05","price":608},
{"series":"MDO (USD/t)","date":"2007-10-08","price":621},
{"series":"MDO (USD/t)","date":"2007-10-10","price":608},
{"series":"MDO (USD/t)","date":"2007-10-13","price":628},
{"series":"MDO (USD/t)","date":"2007-10-17","price":644},
{"series":"MDO (USD/t)","date":"2007-10-21","price":657},
{"series":"MDO (USD/t)","date":"2007-10-26","price":678},
{"series":"MDO (USD/t)","date":"2007-10-30","price":700},
{"series":"MDO (USD/t)","date":"2007-11-03","price":713},
{"series":"MDO (USD/t)","date":"2007-11-07","price":746},
{"series":"MDO (USD/t)","date":"2007-11-09","price":753},
{"series":"MDO (USD/t)","date":"2007-11-12","price":733},
{"series":"MDO (USD/t)","date":"2007-11-14","price":720},
{"series":"MDO (USD/t)","date":"2007-11-18","price":746},
{"series":"MDO (USD/t)","date":"2007-11-20","price":757},
{"series":"MDO (USD/t)","date":"2007-11-21","price":779},
{"series":"MDO (USD/t)","date":"2007-11-24","price":772},
{"series":"MDO (USD/t)","date":"2007-11-27","price":766},
{"series":"MDO (USD/t)","date":"2007-11-30","price":733},
{"series":"MDO (USD/t)","date":"2007-12-03","price":727},
{"series":"MDO (USD/t)","date":"2007-12-06","price":707},
{"series":"MDO (USD/t)","date":"2007-12-09","price":720},
{"series":"MDO (USD/t)","date":"2007-12-12","price":750},
{"series":"MDO (USD/t)","date":"2007-12-14","price":759},
{"series":"MDO (USD/t)","date":"2007-12-18","price":733},
{"series":"MDO (USD/t)","date":"2007-12-21","price":753},
{"series":"MDO (USD/t)","date":"2007-12-26","price":759},
{"series":"MDO (USD/t)","date":"2007-12-30","price":766},
{"series":"MDO (USD/t)","date":"2008-01-03","price":772},
{"series":"MDO (USD/t)","date":"2008-01-06","price":759},
{"series":"MDO (USD/t)","date":"2008-01-09","price":753},
{"series":"MDO (USD/t)","date":"2008-01-13","price":740},
{"series":"MDO (USD/t)","date":"2008-01-17","price":722},
{"series":"MDO (USD/t)","date":"2008-01-20","price":713},
{"series":"MDO (USD/t)","date":"2008-01-22","price":704},
{"series":"MDO (USD/t)","date":"2008-01-26","price":730},
{"series":"MDO (USD/t)","date":"2008-02-02","price":727},
{"series":"MDO (USD/t)","date":"2008-02-06","price":713},
{"series":"MDO (USD/t)","date":"2008-02-09","price":740},
{"series":"MDO (USD/t)","date":"2008-02-13","price":759},
{"series":"MDO (USD/t)","date":"2008-02-17","price":786},
{"series":"MDO (USD/t)","date":"2008-02-22","price":805},
{"series":"MDO (USD/t)","date":"2008-02-26","price":818},
{"series":"MDO (USD/t)","date":"2008-02-28","price":825},
{"series":"MDO (USD/t)","date":"2008-03-03","price":851},
{"series":"MDO (USD/t)","date":"2008-03-06","price":864},
{"series":"MDO (USD/t)","date":"2008-03-09","price":884},
{"series":"MDO (USD/t)","date":"2008-03-13","price":897},
{"series":"MDO (USD/t)","date":"2008-03-16","price":906},
{"series":"MDO (USD/t)","date":"2008-03-17","price":917},
{"series":"MDO (USD/t)","date":"2008-03-20","price":858},
{"series":"MDO (USD/t)","date":"2008-03-24","price":878},
{"series":"MDO (USD/t)","date":"2008-03-27","price":897},
{"series":"MDO (USD/t)","date":"2008-03-30","price":923},
{"series":"MDO (USD/t)","date":"2008-04-02","price":851},
{"series":"MDO (USD/t)","date":"2008-04-04","price":884},
{"series":"MDO (USD/t)","date":"2008-04-08","price":910},
{"series":"MDO (USD/t)","date":"2008-04-13","price":950},
{"series":"MDO (USD/t)","date":"2008-04-16","price":963},
{"series":"MDO (USD/t)","date":"2008-04-19","price":983},
{"series":"MDO (USD/t)","date":"2008-04-23","price":1028},
{"series":"MDO (USD/t)","date":"2008-04-26","price":1009},
{"series":"MDO (USD/t)","date":"2008-04-30","price":1011},
{"series":"MDO (USD/t)","date":"2008-05-04","price":1006},
{"series":"MDO (USD/t)","date":"2008-05-07","price":1059},
{"series":"MDO (USD/t)","date":"2008-05-09","price":1094},
{"series":"MDO (USD/t)","date":"2008-05-12","price":1081},
{"series":"MDO (USD/t)","date":"2008-05-15","price":1107},
{"series":"MDO (USD/t)","date":"2008-05-18","price":1088},
{"series":"MDO (USD/t)","date":"2008-05-22","price":1186},
{"series":"MDO (USD/t)","date":"2008-05-25","price":1173},
{"series":"MDO (USD/t)","date":"2008-05-27","price":1133},
{"series":"MDO (USD/t)","date":"2008-05-30","price":1074},
{"series":"MDO (USD/t)","date":"2008-06-02","price":1077},
{"series":"MDO (USD/t)","date":"2008-06-05","price":1055},
{"series":"MDO (USD/t)","date":"2008-06-07","price":1120},
{"series":"MDO (USD/t)","date":"2008-06-12","price":1173},
{"series":"MDO (USD/t)","date":"2008-06-15","price":1146},
{"series":"MDO (USD/t)","date":"2008-06-18","price":1120},
{"series":"MDO (USD/t)","date":"2008-06-22","price":1129},
{"series":"MDO (USD/t)","date":"2008-06-25","price":1127},
{"series":"MDO (USD/t)","date":"2008-06-28","price":1173},
{"series":"MDO (USD/t)","date":"2008-07-01","price":1166},
{"series":"MDO (USD/t)","date":"2008-07-03","price":1206},
{"series":"MDO (USD/t)","date":"2008-07-06","price":1166},
{"series":"MDO (USD/t)","date":"2008-07-08","price":1140},
{"series":"MDO (USD/t)","date":"2008-07-11","price":1199},
{"series":"MDO (USD/t)","date":"2008-07-14","price":1195},
{"series":"MDO (USD/t)","date":"2008-07-17","price":1127},
{"series":"MDO (USD/t)","date":"2008-07-21","price":1107},
{"series":"MDO (USD/t)","date":"2008-07-24","price":1061},
{"series":"MDO (USD/t)","date":"2008-07-27","price":1059},
{"series":"MDO (USD/t)","date":"2008-07-31","price":1041},
{"series":"MDO (USD/t)","date":"2008-08-03","price":1024},
{"series":"MDO (USD/t)","date":"2008-08-06","price":956},
{"series":"MDO (USD/t)","date":"2008-08-11","price":923},
{"series":"MDO (USD/t)","date":"2008-08-15","price":910},
{"series":"MDO (USD/t)","date":"2008-08-18","price":904},
{"series":"MDO (USD/t)","date":"2008-08-21","price":956},
{"series":"MDO (USD/t)","date":"2008-08-24","price":943},
{"series":"MDO (USD/t)","date":"2008-08-28","price":930},
{"series":"MDO (USD/t)","date":"2008-08-31","price":897},
{"series":"MDO (USD/t)","date":"2008-09-02","price":878},
{"series":"MDO (USD/t)","date":"2008-09-05","price":884},
{"series":"MDO (USD/t)","date":"2008-09-09","price":864},
{"series":"MDO (USD/t)","date":"2008-09-12","price":851},
{"series":"MDO (USD/t)","date":"2008-09-14","price":838},
{"series":"MDO (USD/t)","date":"2008-09-17","price":805},
{"series":"MDO (USD/t)","date":"2008-09-24","price":888},
{"series":"MDO (USD/t)","date":"2008-09-28","price":858},
{"series":"MDO (USD/t)","date":"2008-09-30","price":838},
{"series":"MDO (USD/t)","date":"2008-10-01","price":858},
{"series":"MDO (USD/t)","date":"2008-10-04","price":772},
{"series":"MDO (USD/t)","date":"2008-10-08","price":720},
{"series":"MDO (USD/t)","date":"2008-10-10","price":687},
{"series":"MDO (USD/t)","date":"2008-10-12","price":681},
{"series":"MDO (USD/t)","date":"2008-10-14","price":707},
{"series":"MDO (USD/t)","date":"2008-10-17","price":628},
{"series":"MDO (USD/t)","date":"2008-10-20","price":635},
{"series":"MDO (USD/t)","date":"2008-10-23","price":617},
{"series":"MDO (USD/t)","date":"2008-10-27","price":562},
{"series":"MDO (USD/t)","date":"2008-10-30","price":602},
{"series":"MDO (USD/t)","date":"2008-11-02","price":582},
{"series":"MDO (USD/t)","date":"2008-11-04","price":608},
{"series":"MDO (USD/t)","date":"2008-11-07","price":599},
{"series":"MDO (USD/t)","date":"2008-11-10","price":604},
{"series":"MDO (USD/t)","date":"2008-11-13","price":549},
{"series":"MDO (USD/t)","date":"2008-11-17","price":530},
{"series":"MDO (USD/t)","date":"2008-11-20","price":510},
{"series":"MDO (USD/t)","date":"2008-11-23","price":499},
{"series":"MDO (USD/t)","date":"2008-11-27","price":490},
{"series":"MDO (USD/t)","date":"2008-12-01","price":464},
{"series":"MDO (USD/t)","date":"2008-12-06","price":428},
{"series":"MDO (USD/t)","date":"2008-12-09","price":405},
{"series":"MDO (USD/t)","date":"2008-12-11","price":438},
{"series":"MDO (USD/t)","date":"2008-12-13","price":457},
{"series":"MDO (USD/t)","date":"2008-12-16","price":431},
{"series":"MDO (USD/t)","date":"2008-12-19","price":421},
{"series":"MDO (USD/t)","date":"2008-12-22","price":398},
{"series":"MDO (USD/t)","date":"2008-12-27","price":392},
{"series":"MDO (USD/t)","date":"2008-12-31","price":385},
{"series":"MDO (USD/t)","date":"2009-01-03","price":411},
{"series":"MDO (USD/t)","date":"2009-01-06","price":473},
{"series":"MDO (USD/t)","date":"2009-01-09","price":431},
{"series":"MDO (USD/t)","date":"2009-01-12","price":398},
{"series":"MDO (USD/t)","date":"2009-01-15","price":438},
{"series":"MDO (USD/t)","date":"2009-01-17","price":424},
{"series":"MDO (USD/t)","date":"2009-01-20","price":405}
          ]},
          "mark": {"type": "line", "strokeWidth": 2.75, "strokeJoin": "round"},
          "encoding": {
            "x": {
              "field": "date", "type": "temporal",
              "scale": {"type": "utc", "domain": [{"year": 2007, "month": 7, "date": 30, "utc": true}, {"year": 2009, "month": 1, "date": 30, "utc": true}], "range": [104.3, 928.7], "nice": false},
              "axis": {
                "orient": "bottom", "offset": -172, "title": "Date",
                "values": [
                  {"year": 2007, "month": 7, "date": 30, "utc": true},
                  {"year": 2007, "month": 8, "date": 29, "utc": true},
                  {"year": 2007, "month": 9, "date": 28, "utc": true},
                  {"year": 2007, "month": 10, "date": 28, "utc": true},
                  {"year": 2007, "month": 11, "date": 27, "utc": true},
                  {"year": 2007, "month": 12, "date": 27, "utc": true},
                  {"year": 2008, "month": 1, "date": 26, "utc": true},
                  {"year": 2008, "month": 2, "date": 25, "utc": true},
                  {"year": 2008, "month": 3, "date": 26, "utc": true},
                  {"year": 2008, "month": 4, "date": 25, "utc": true},
                  {"year": 2008, "month": 5, "date": 25, "utc": true},
                  {"year": 2008, "month": 6, "date": 24, "utc": true},
                  {"year": 2008, "month": 7, "date": 24, "utc": true},
                  {"year": 2008, "month": 8, "date": 23, "utc": true},
                  {"year": 2008, "month": 9, "date": 22, "utc": true},
                  {"year": 2008, "month": 10, "date": 22, "utc": true},
                  {"year": 2008, "month": 11, "date": 21, "utc": true},
                  {"year": 2008, "month": 12, "date": 21, "utc": true},
                  {"year": 2009, "month": 1, "date": 20, "utc": true}
                ],
                "format": "%d.%m.%Y",
                "labelAngle": -56, "labelAlign": "right", "labelBaseline": "middle",
                "labelFont": "Liberation Sans", "labelFontSize": 15, "labelColor": "#000000",
                "labelPadding": 17, "labelOffset": 4, "labelOverlap": false, "labelFlush": false,
                "tickSize": 5, "tickColor": "#7f7f7f", "domainColor": "#5a5a5a", "grid": false,
                "titleFont": "Liberation Sans", "titleFontSize": 15, "titleFontWeight": "bold", "titleColor": "#000000", "titlePadding": 12
              }
            },
            "y": {
              "field": "price", "type": "quantitative",
              "scale": {"domain": [0, 1400], "range": [414, 58.7], "nice": false, "zero": true},
              "axis": {
                "orient": "left", "offset": -104.3, "title": "Price (USD/t)",
                "values": [0, 200, 400, 600, 800, 1000, 1200, 1400], "format": "d",
                "labelFont": "Liberation Sans", "labelFontSize": 14.5, "labelColor": "#000000", "labelPadding": 7, "labelFlush": false,
                "tickSize": 5, "tickColor": "#7f7f7f", "domainColor": "#7f7f7f",
                "grid": true, "gridColor": "#a3a3a3", "gridWidth": 1,
                "titleFont": "Liberation Sans", "titleFontSize": 15, "titleFontWeight": "bold", "titleColor": "#000000", "titlePadding": 22
              }
            },
            "color": {
              "field": "series", "type": "nominal",
              "scale": {"domain": ["IFO380 (USD/t)", "LS380 (USD/t)", "MGO (USD/t)", "MDO (USD/t)", "SECA 2 by EU", "SECA 2 by IMO"], "range": ["#c0c0c0", "#7f7f7f", "#e8651a", "#f4c414", "#000000", "#000000"]},
              "legend": {"title": null}
            },
            "strokeDash": {
              "field": "series", "type": "nominal",
              "scale": {"domain": ["IFO380 (USD/t)", "LS380 (USD/t)", "MGO (USD/t)", "MDO (USD/t)", "SECA 2 by EU", "SECA 2 by IMO"], "range": [[1, 0], [1, 0], [1, 0], [1, 0], [7, 4], [2, 3]]},
              "legend": {"title": null}
            }
          }
        },
        {
          "data": {"values": [
            {"series": "SECA 2 by EU", "date": "2007-08-11"},
            {"series": "SECA 2 by IMO", "date": "2007-11-22"}
          ]},
          "mark": {"type": "rule", "strokeWidth": 1.5},
          "encoding": {
            "x": {"field": "date", "type": "temporal"},
            "y": {"datum": 0, "type": "quantitative"},
            "y2": {"datum": 1100},
            "color": {"field": "series", "type": "nominal"},
            "strokeDash": {"field": "series", "type": "nominal"}
          }
        }
      ]
    },
    {
      "width": 960,
      "height": 292,
      "data": {"values": [
        {"line": 0, "text": "Kuva 3.1. Viimeaikainen polttoaineiden hinnan vaihtelu (ks. liite). Kuvassa LS (Low Sulphur)"},
        {"line": 1, "text": "on raskas polttoaine, jota käytetään SECA-alueilla (täyttää nykyisen 1,5 % rikkipitoisuusvaati-"},
        {"line": 2, "text": "muksen). MDO ja MGO ovat kevyitä polttoaineita, joista MGO on ainoa, joka sisältää rikkiä"},
        {"line": 3, "text": "alle 0,1 % (Suomesta saa myös MDO:ta, jossa on alle 0,1 %-S). IFO (intermediate fuel oil) on"},
        {"line": 4, "text": "raskasta polttoöljyä, joka saa sisältää 4,5 % rikkiä. 380 on polttoaineen viskositeetti."}
      ]},
      "mark": {"type": "text", "align": "left", "baseline": "middle", "font": "Liberation Serif", "fontStyle": "italic", "fontSize": 24.8, "color": "#000000"},
      "encoding": {
        "x": {"datum": 0, "type": "quantitative", "scale": {"domain": [0, 1], "range": [2, 958], "nice": false, "zero": false}, "axis": null},
        "y": {"field": "line", "type": "quantitative", "scale": {"domain": [-1.09, 9.228], "range": [0, 292], "nice": false, "zero": false}, "axis": null},
        "text": {"field": "text", "type": "nominal"}
      }
    },
    {
      "width": 960,
      "height": 109,
      "layer": [
        {
          "data": {"values": [{"line": -1, "item": "footnote separator"}]},
          "mark": {"type": "rule", "color": "#000000", "strokeWidth": 1},
          "encoding": {
            "x": {"datum": 0, "type": "quantitative", "scale": {"domain": [0, 1], "range": [2, 958], "nice": false, "zero": false}, "axis": null},
            "x2": {"datum": 0.338},
            "y": {"field": "line", "type": "quantitative", "scale": {"domain": [-1.566, 2.547], "range": [0, 109], "nice": false, "zero": false}, "axis": null}
          }
        },
        {
          "data": {"values": [
            {"line": 0, "text": "⁷ ÖKKL:n jäsenyrityksiltä pyydettiin myös arvioita kevyen polttoöljyn (rikkipitoisuus 0,5 %) hinnasta ja"},
            {"line": 1, "text": "saatavuudesta, mutta kyseinen polttoainelaatu on vielä polttoaineen toimittajille tuntematon. Enimmäis-"},
            {"line": 2, "text": "rikkipitoisuudeltaan 0,1 prosenttinen kevyt polttoöljy on käytännössä kaasuöljyä."}
          ]},
          "mark": {"type": "text", "align": "left", "baseline": "middle", "font": "Liberation Serif", "fontSize": 22.8, "color": "#000000"},
          "encoding": {
            "x": {"datum": 0, "type": "quantitative"},
            "y": {"field": "line", "type": "quantitative"},
            "text": {"field": "text", "type": "nominal"}
          }
        }
      ]
    }
  ]
}
